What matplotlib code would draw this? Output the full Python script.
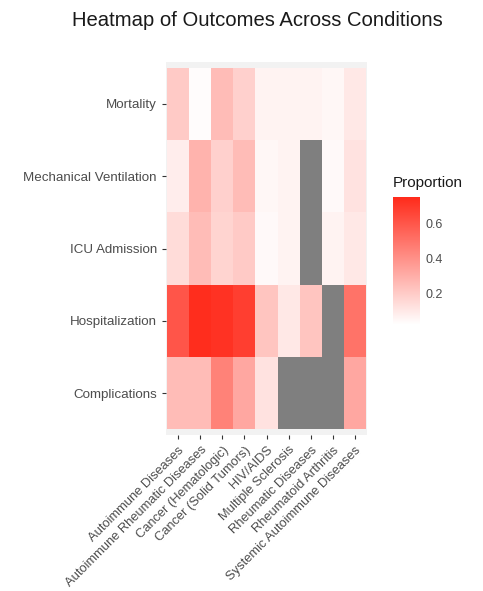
import numpy as np
import matplotlib
matplotlib.use("Agg")
import matplotlib.pyplot as plt
from matplotlib.colors import LinearSegmentedColormap

plt.rcParams['font.family'] = ['Liberation Sans', 'DejaVu Sans']

conditions = ["Autoimmune Diseases", "Autoimmune Rheumatic Diseases", "Cancer (Hematologic)",
              "Cancer (Solid Tumors)", "HIV/AIDS", "Multiple Sclerosis", "Rheumatic Diseases",
              "Rheumatoid Arthritis", "Systemic Autoimmune Diseases"]
outcomes = ["Complications", "Hospitalization", "ICU Admission", "Mechanical Ventilation", "Mortality"]
nan = np.nan
complications   = [0.25, 0.25, 0.45, 0.32, 0.12, nan, nan, nan, 0.32]
hospitalization = [0.60, 0.74, 0.72, 0.68, 0.22, 0.10, 0.22, nan, 0.50]
icu_admission   = [0.14, 0.25, 0.17, 0.20, 0.04, 0.06, nan, 0.06, 0.10]
mech_vent       = [0.08, 0.28, 0.18, 0.25, 0.05, 0.06, nan, 0.04, 0.12]
mortality       = [0.20, 0.03, 0.25, 0.18, 0.06, 0.06, 0.06, 0.05, 0.10]

data = np.array([complications, hospitalization, icu_admission, mech_vent, mortality])
masked = np.ma.masked_invalid(data)

cmap = LinearSegmentedColormap.from_list("wr", ["#FFFFFF", "#FF2A1A"])
cmap.set_bad("#7F7F7F")

W, H = 483, 591
fig = plt.figure(figsize=(W/100, H/100), dpi=100)
ax = fig.add_axes([166/W, 1-435/H, (367-166)/W, (435-62)/H])
ax.set_facecolor("#F2F2F2")
vmin, vmax = 0.02, 0.75
x = np.arange(len(conditions))
y = np.arange(len(outcomes))
mesh = ax.pcolormesh(np.arange(len(conditions)+1)-0.5, np.arange(len(outcomes)+1)-0.5, masked,
                     cmap=cmap, vmin=vmin, vmax=vmax, shading="flat")
ax.set_xlim(-0.55, len(conditions)-0.45)
ax.set_ylim(-0.58, len(outcomes)-0.42)
ax.set_xticks(x)
ax.set_xticklabels(conditions, rotation=45, ha="right", rotation_mode="anchor",
                   fontsize=9.3, color="#4D4D4D")
ax.set_yticks(y)
ax.set_yticklabels(outcomes, fontsize=9.6, color="#4D4D4D")
ax.tick_params(axis="both", length=3, color="#333333", width=0.8)
for s in ax.spines.values():
    s.set_visible(False)

fig.text(72/W, 1-20/H, "Heatmap of Outcomes Across Conditions", fontsize=14.6,
         color="#1A1A1A", va="center", ha="left")

cax = fig.add_axes([393/W, 1-325/H, 27/W, 128/H])
cb = fig.colorbar(mesh, cax=cax, ticks=[0.2, 0.4, 0.6])
cb.outline.set_visible(False)
cb.ax.tick_params(length=0, labelsize=9, labelcolor="#4D4D4D", pad=4)
fig.text(393/W, 1-183/H, "Proportion", fontsize=11, color="#1A1A1A", va="center", ha="left")

fig.savefig("out.png", dpi=100)
